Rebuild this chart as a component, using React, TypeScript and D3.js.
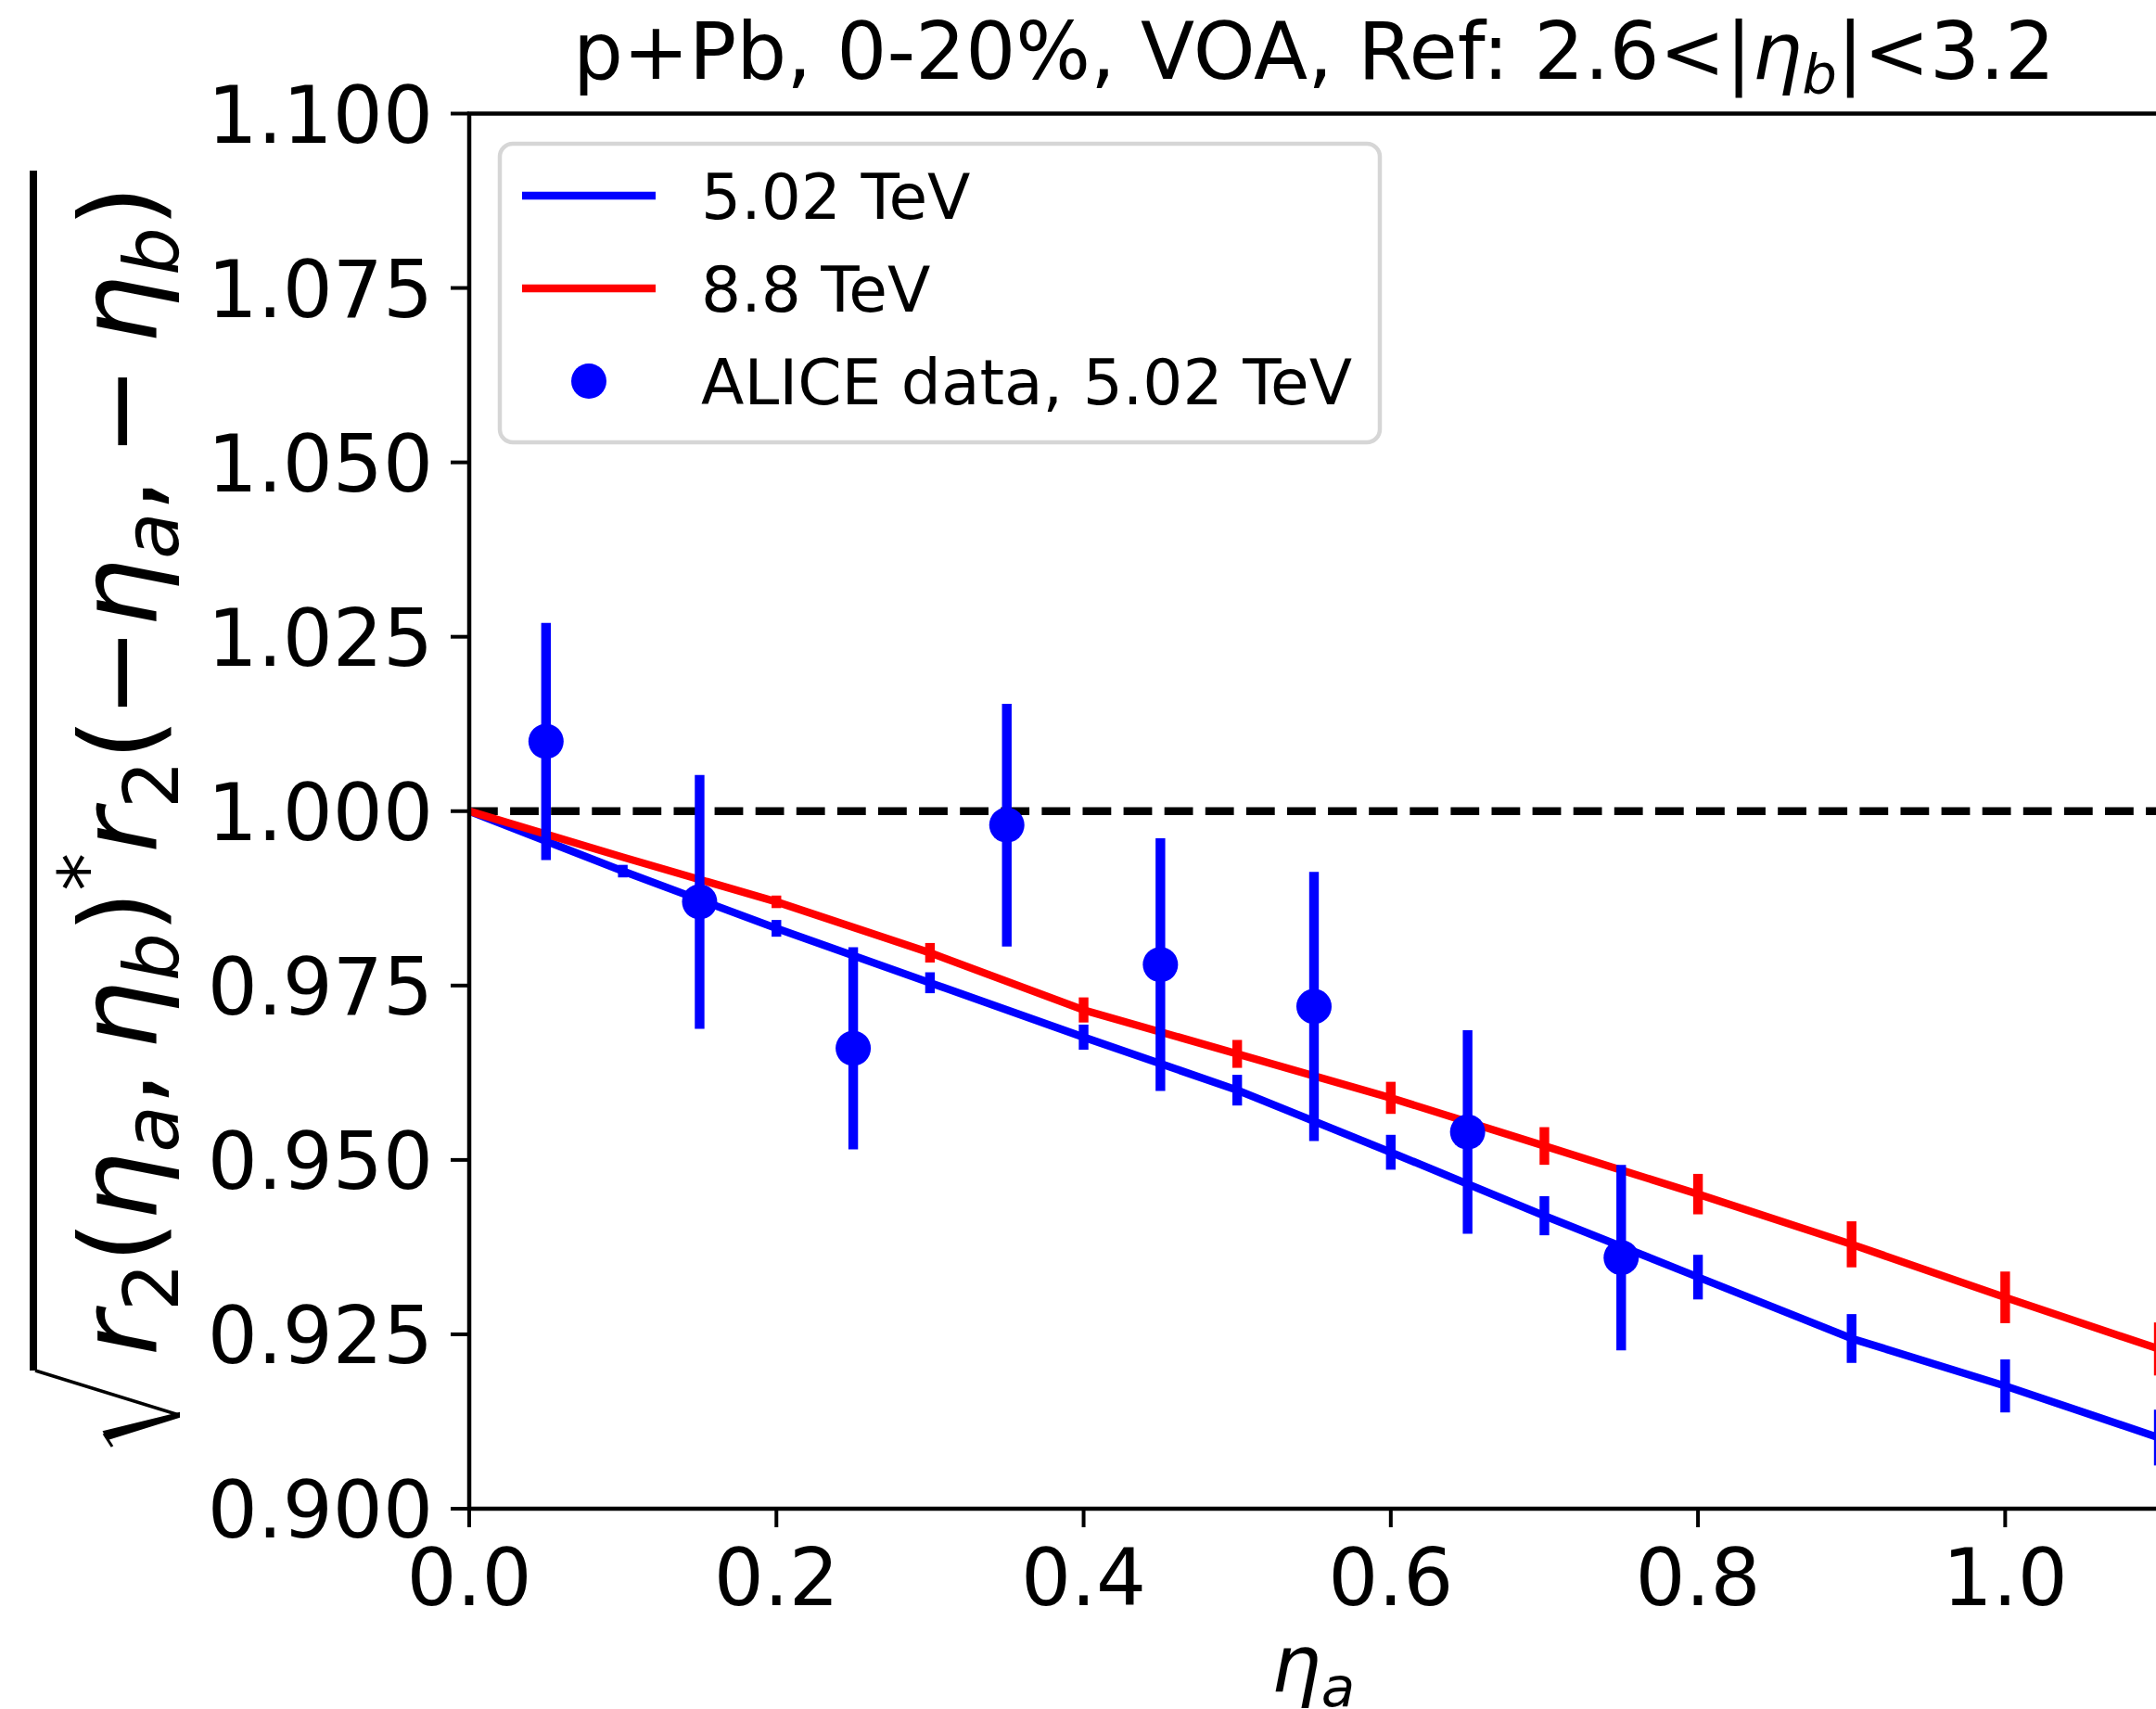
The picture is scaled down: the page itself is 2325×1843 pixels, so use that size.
import React from 'react';
import * as d3 from 'd3';

// ---- data ----
const modelEta = [0.0, 0.1, 0.2, 0.3, 0.4, 0.5, 0.6, 0.7, 0.8, 0.9, 1.0, 1.1];
const model502 = [1.0, 0.9914, 0.9832, 0.9754, 0.9676, 0.96, 0.9511, 0.942, 0.9332, 0.9244, 0.9176, 0.9102];
const model502Err = [0.0, 0.0009, 0.0012, 0.0015, 0.0018, 0.0022, 0.0025, 0.0028, 0.0032, 0.0035, 0.0038, 0.004];
const model88 = [1.0, 0.9934, 0.987, 0.9797, 0.9715, 0.9652, 0.9589, 0.952, 0.9451, 0.9379, 0.9303, 0.9229];
const model88Err = [0.0, 0.0003, 0.0009, 0.0014, 0.0018, 0.002, 0.0023, 0.0027, 0.0029, 0.0033, 0.0037, 0.0038];

const dataEta = [0.05, 0.15, 0.25, 0.35, 0.45, 0.55, 0.65, 0.75];
const dataVal = [1.01, 0.987, 0.966, 0.998, 0.978, 0.972, 0.954, 0.936];
const dataErr = [0.017, 0.0182, 0.0145, 0.0174, 0.0181, 0.0193, 0.0146, 0.0133];

const xTicks = [0.0, 0.2, 0.4, 0.6, 0.8, 1.0];
const yTicks = [0.9, 0.925, 0.95, 0.975, 1.0, 1.025, 1.05, 1.075, 1.1];
const legendLabels = ['5.02 TeV', '8.8 TeV', 'ALICE data, 5.02 TeV'];
const seriesColors = ['#0000ff', '#ff0000', '#0000ff'];

const W = 2325;
const H = 1843;
const FONT = 'DejaVu Sans';

export default function App() {
  const left = 506;
  const right = 2328;
  const top = 122.5;
  const bottom = 1627;
  const x = d3.scaleLinear().domain([0, 1.1]).range([left, right]);
  const y = d3.scaleLinear().domain([0.9, 1.1]).range([bottom, top]);

  const line = d3
    .line<number>()
    .x((_, i) => x(modelEta[i]))
    .y((d) => y(d));

  const lw = 8.3;
  const elw = 10.4;
  const tickLen = 20;
  const tickFont = 85;
  const yl = 116.7;
  const ys = 81.7;
  const sub = 23;
  const sup = 47;

  const models = [
    { vals: model502, errs: model502Err, color: seriesColors[0] },
    { vals: model88, errs: model88Err, color: seriesColors[1] },
  ];

  return (
    <svg
      width={W}
      height={H}
      viewBox={`0 0 ${W} ${H}`}
      style={{ position: 'absolute', left: 0, top: 0, display: 'block', background: '#fff' }}
      fontFamily={FONT}
    >
      <rect x={0} y={0} width={W} height={H} fill="#fff" />
      <defs>
        <clipPath id="plotClip">
          <rect x={left} y={top} width={right - left} height={bottom - top} />
        </clipPath>
      </defs>

      {/* reference dashed line */}
      <g clipPath="url(#plotClip)">
        <line
          x1={x(0)}
          x2={x(1.1)}
          y1={y(1.0)}
          y2={y(1.0)}
          stroke="#000"
          strokeWidth={lw}
          strokeDasharray="30.8 13.3"
        />
        {models.map((m, k) => (
          <g key={k}>
            <path d={line(m.vals) || ''} fill="none" stroke={m.color} strokeWidth={lw} strokeLinejoin="round" />
            {m.vals.map((v, i) => (
              <line
                key={i}
                x1={x(modelEta[i])}
                x2={x(modelEta[i])}
                y1={y(v - m.errs[i])}
                y2={y(v + m.errs[i])}
                stroke={m.color}
                strokeWidth={elw}
              />
            ))}
          </g>
        ))}
        {dataVal.map((v, i) => (
          <g key={i}>
            <line
              x1={x(dataEta[i])}
              x2={x(dataEta[i])}
              y1={y(v - dataErr[i])}
              y2={y(v + dataErr[i])}
              stroke={seriesColors[2]}
              strokeWidth={elw}
            />
            <circle cx={x(dataEta[i])} cy={y(v)} r={19} fill={seriesColors[2]} />
          </g>
        ))}
      </g>

      {/* spines */}
      <rect x={left} y={top} width={right - left} height={bottom - top} fill="none" stroke="#000" strokeWidth={4.5} />

      {/* x ticks */}
      {xTicks.map((t) => (
        <g key={t}>
          <line x1={x(t)} x2={x(t)} y1={bottom} y2={bottom + tickLen} stroke="#000" strokeWidth={4} />
          <text x={x(t)} y={1731} textAnchor="middle" fontSize={tickFont} fill="#000">
            {t.toFixed(1)}
          </text>
        </g>
      ))}
      {/* y ticks */}
      {yTicks.map((t) => (
        <g key={t}>
          <line x1={left - tickLen} x2={left} y1={y(t)} y2={y(t)} stroke="#000" strokeWidth={4} />
          <text x={467} y={y(t) + 31} textAnchor="end" fontSize={tickFont} fill="#000">
            {t.toFixed(3)}
          </text>
        </g>
      ))}

      {/* title */}
      <text x={(left + right) / 2} y={85} textAnchor="middle" fontSize={85} fill="#000">
        <tspan>{'p+Pb, 0-20%, VOA, Ref: 2.6<|'}</tspan>
        <tspan fontStyle="italic">η</tspan>
        <tspan fontStyle="italic" fontSize={59.5} dy={16}>b</tspan>
        <tspan dy={-16}>{'|<3.2'}</tspan>
      </text>

      {/* x label */}
      <text x={1416} y={1824} textAnchor="middle" fontSize={85} fill="#000">
        <tspan fontStyle="italic">η</tspan>
        <tspan fontStyle="italic" fontSize={59.5} dy={16}>a</tspan>
      </text>

      {/* y label */}
      <path d="M36,184 L36,1478" stroke="#000" strokeWidth={8} fill="none" />
      <path d="M38,1478 L193,1526" stroke="#000" strokeWidth={3.5} fill="none" />
      <path d="M193,1524 L193,1528 L116,1552 L112,1544 Z" fill="#000" stroke="#000" strokeWidth={2} />
      <path d="M112,1546 L121,1560" stroke="#000" strokeWidth={3} fill="none" />
      <text transform="translate(169,1462) rotate(-90)" textAnchor="start" fontSize={yl} fill="#000">
        <tspan fontStyle="italic">r</tspan>
        <tspan fontSize={ys} dy={sub}>2</tspan>
        <tspan dy={-sub}>(</tspan>
        <tspan fontStyle="italic">η</tspan>
        <tspan fontStyle="italic" fontSize={ys} dy={sub}>a</tspan>
        <tspan dy={-sub}>{',\u2009'}</tspan>
        <tspan fontStyle="italic">η</tspan>
        <tspan fontStyle="italic" fontSize={ys} dy={sub}>b</tspan>
        <tspan dy={-sub}>)</tspan>
        <tspan fontSize={ys} dy={-sup}>*</tspan>
        <tspan fontStyle="italic" dy={sup}>r</tspan>
        <tspan fontSize={ys} dy={sub}>2</tspan>
        <tspan dy={-sub}>(−</tspan>
        <tspan fontStyle="italic">η</tspan>
        <tspan fontStyle="italic" fontSize={ys} dy={sub}>a</tspan>
        <tspan dy={-sub}>{',\u2009−\u2009'}</tspan>
        <tspan fontStyle="italic">η</tspan>
        <tspan fontStyle="italic" fontSize={ys} dy={sub}>b</tspan>
        <tspan dy={-sub}>)</tspan>
      </text>

      {/* legend */}
      <rect x={539} y={155} width={949} height={322} rx={14} ry={14} fill="#fff" stroke="#d6d6d6" strokeWidth={4.5} />
      {legendLabels.map((lab, i) => {
        const cy = 211 + i * 100;
        return (
          <g key={lab}>
            {i < 2 ? (
              <line x1={563} x2={707} y1={cy} y2={cy} stroke={seriesColors[i]} strokeWidth={lw} />
            ) : (
              <circle cx={635} cy={cy} r={19} fill={seriesColors[i]} />
            )}
            <text x={756} y={cy + 24.5} fontSize={67.8} fill="#000">
              {lab}
            </text>
          </g>
        );
      })}
    </svg>
  );
}
